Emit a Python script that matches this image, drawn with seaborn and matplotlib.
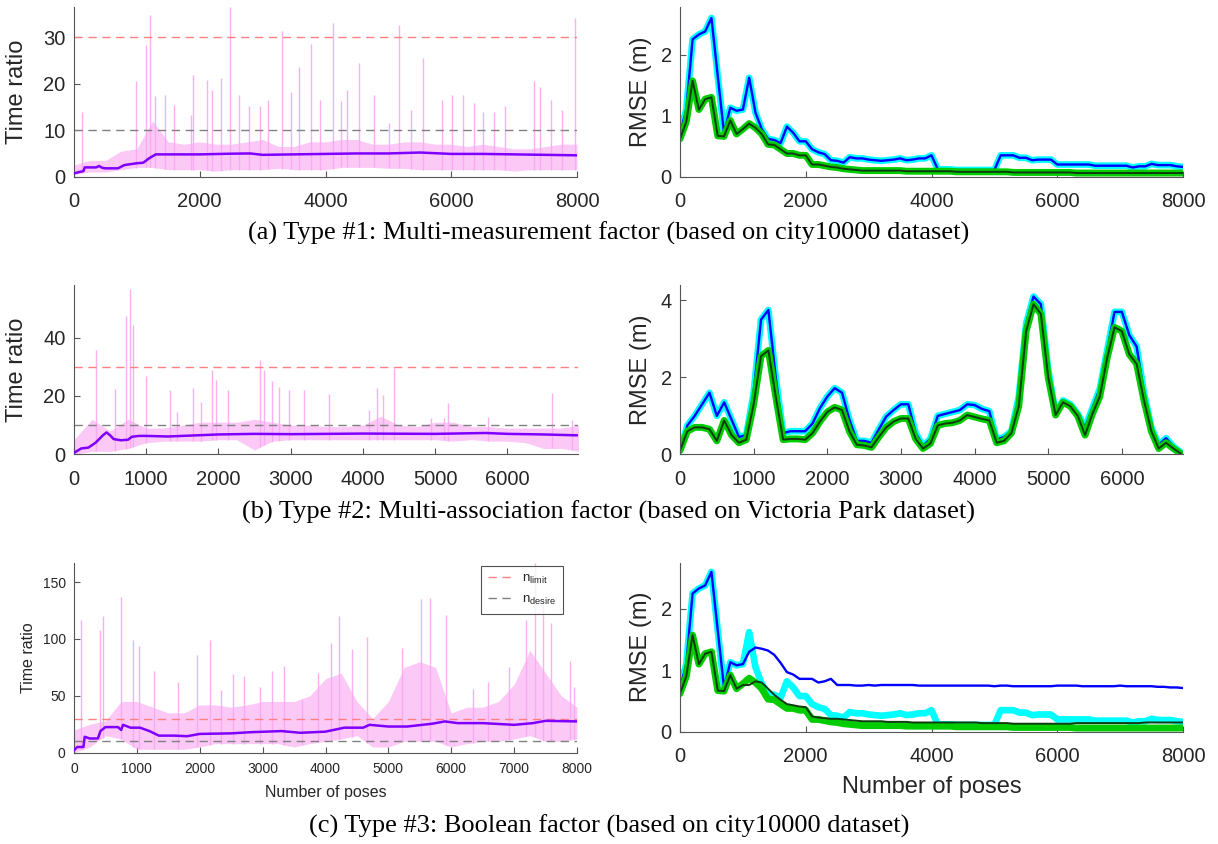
import matplotlib
matplotlib.use('Agg')
import matplotlib.pyplot as plt
import numpy as np
import seaborn as sns

# ---------------- data ----------------
# time ratio, city10000 (row a): running mean (purple)
mean_a_x = [0, 80, 150, 170, 350, 400, 450, 500, 700, 800, 1000, 1100, 1200, 1300, 1400,
            2000, 2500, 2800, 3000, 3500, 4000, 4500, 5000, 5500, 6000, 6500, 7000, 7500, 8000]
mean_a_y = [0.7, 1.0, 1.2, 2.0, 2.0, 2.3, 1.9, 1.8, 1.8, 2.5, 2.9, 3.0, 4.0, 4.8, 4.8,
            4.8, 4.95, 5.0, 4.7, 4.8, 4.9, 5.0, 5.0, 5.2, 4.9, 4.9, 4.8, 4.7, 4.6]
# raw per-pose ratio (pink): dense band every 250 poses + single spikes
band_a_x = list(range(0, 8001, 250))
band_a_lo = [0.5, 1.0, 1.0, 1.5, 2.0, 2.0, 1.5, 1.5, 1.5, 1.2, 1.5, 1.5, 1.5, 1.8, 1.5, 1.5, 1.5,
             2.0, 2.0, 2.0, 1.8, 1.8, 1.5, 1.5, 1.5, 1.5, 1.5, 1.5, 1.2, 1.5, 1.5, 1.5, 1.5]
band_a_hi = [2.5, 3.5, 3.5, 5.5, 6.0, 12.0, 7.5, 7.0, 7.5, 7.0, 7.0, 7.5, 8.0, 6.5, 6.5, 7.5, 7.5,
             8.0, 8.0, 7.0, 7.0, 7.5, 7.5, 7.0, 7.0, 6.5, 7.0, 6.5, 6.0, 6.0, 6.5, 7.0, 7.0]
spike_a_x = [134, 985, 1138, 1211, 1290, 1454, 1594, 1868, 1886, 2111, 2202, 2342, 2476, 2628,
             2780, 2962, 3084, 3309, 3449, 3583, 3766, 3905, 4118, 4240, 4349, 4526, 4775, 5006,
             5171, 5365, 5547, 5852, 6016, 6187, 6357, 6503, 6674, 6856, 7324, 7416, 7586, 7768, 7970]
spike_a_y = [14, 20.5, 28.4, 34.7, 17.3, 17.6, 15.5, 13.3, 21.9, 20.9, 18.7, 21.2, 36.5, 17.6,
             15.1, 15.3, 16.5, 31.3, 18.3, 23.7, 28.6, 16.5, 33, 16.2, 18.7, 24.5, 17.6, 11.5,
             32.7, 14.4, 25.5, 16.5, 17.6, 17.6, 15.8, 14, 14, 15.1, 20.5, 19.4, 16.5, 14.4, 34.2]

# time ratio, Victoria Park (row b)
mean_b_x = [0, 100, 200, 300, 400, 450, 500, 550, 650, 750, 800, 900, 1000, 1300, 2000,
            2500, 3000, 4000, 5000, 5700, 6000, 6500, 6970]
mean_b_y = [0.5, 2.0, 2.3, 4.0, 6.5, 7.5, 6.5, 5.2, 4.8, 5.0, 6.0, 6.3, 6.3, 6.1, 6.8,
            7.0, 6.9, 7.1, 7.0, 7.3, 7.0, 6.8, 6.5]
band_b_x = list(range(0, 7001, 250))
band_b_lo = [0.0, 1.0, 1.0, 2.0, 4.0, 4.5, 4.5, 4.5, 5.0, 5.0, 1.5, 4.5, 5.0, 5.0, 5.0,
             5.0, 5.0, 5.0, 5.0, 5.0, 5.0, 4.5, 5.0, 4.5, 4.5, 4.0, 2.0, 2.0, 1.0]
band_b_hi = [5.0, 12.0, 8.0, 12.0, 9.0, 9.0, 10.0, 11.0, 11.0, 11.0, 12.0, 11.0, 10.0, 10.0, 9.5,
             9.5, 10.0, 13.0, 10.0, 9.5, 11.0, 11.0, 9.5, 9.5, 9.0, 9.0, 9.0, 9.0, 10.0]
spike_b_x = [302, 567, 715, 779, 821, 991, 1330, 1426, 1654, 1760, 1908, 1972, 2131, 2581, 2634,
             2740, 2846, 2979, 3191, 3535, 4092, 4198, 4277, 4436, 4940, 5125, 5178, 5735, 6620, 6901]
spike_b_y = [35.9, 22.3, 47.3, 56.8, 44.2, 26.8, 22, 14.6, 22.8, 18, 28.8, 25.4, 22, 32.3, 28.8,
             25, 23, 22, 22, 20.6, 15.2, 22.8, 20.3, 29.4, 12.3, 12.3, 17.7, 12.9, 20.9, 11.7]

# time ratio, Boolean factor on city10000 (row c)
mean_c_x = [0, 50, 150, 170, 250, 380, 420, 500, 700, 750, 780, 900, 1050, 1200, 1350, 1600,
            1800, 2000, 2500, 2800, 3300, 3600, 4000, 4300, 4600, 4700, 5000, 5300, 5700, 5900,
            6100, 6500, 7000, 7300, 7500, 8000]
mean_c_y = [2, 5, 5, 14, 12.5, 12.5, 19, 22.5, 22.5, 20, 24.5, 22, 22, 19, 15, 15,
            14.5, 16.5, 17, 18, 19, 17.5, 18.5, 22, 22, 24.5, 23, 23, 25.5, 27.5,
            26, 26, 24.5, 26, 28, 27.5]
band_c_x = list(range(0, 8001, 250))
band_c_lo = [0, 5, 15, 12, 3, 3, 3, 3, 5, 8, 8, 8, 8, 8, 5, 8, 10,
             12, 15, 5, 5, 10, 10, 10, 5, 8, 10, 10, 12, 15, 10, 10, 12]
band_c_hi = [20, 25, 28, 45, 45, 40, 35, 35, 42, 42, 40, 42, 45, 45, 45, 50, 65,
             70, 45, 30, 45, 75, 80, 75, 35, 40, 40, 45, 60, 90, 70, 50, 40]
spike_c_x = [116, 420, 456, 742, 943, 1028, 1277, 1655, 1958, 2159, 2342, 2536, 2700, 2962, 3145,
             3339, 3631, 3875, 4088, 4210, 4422, 4666, 5213, 5517, 5669, 5912, 6339, 6582, 6917,
             7191, 7331, 7465, 7586, 7890, 7951]
spike_c_y = [117, 108, 120, 137, 99, 94, 72, 62, 86, 99, 55, 69, 67, 58, 72,
             76, 47, 70, 96, 120, 91, 102, 92, 135, 136, 121, 56, 62, 75,
             117, 167, 135, 114, 81, 58]

n_limit = 30
n_desire = 10

# RMSE, sampled every 100 poses
poses_city = list(range(0, 8001, 100))
rmse_a_blue = [0.70, 1.10, 2.25, 2.33, 2.38, 2.60, 1.65, 0.72, 1.13, 1.08,
               1.10, 1.62, 1.05, 0.78, 0.62, 0.60, 0.55, 0.82, 0.72, 0.58,
               0.58, 0.45, 0.40, 0.37, 0.27, 0.26, 0.23, 0.32, 0.30, 0.30,
               0.28, 0.27, 0.26, 0.27, 0.28, 0.30, 0.27, 0.28, 0.30, 0.30,
               0.35, 0.12, 0.12, 0.12, 0.11, 0.11, 0.11, 0.11, 0.11, 0.11,
               0.11, 0.35, 0.35, 0.35, 0.31, 0.31, 0.27, 0.28, 0.28, 0.28,
               0.20, 0.20, 0.20, 0.20, 0.20, 0.20, 0.18, 0.18, 0.18, 0.18,
               0.18, 0.18, 0.15, 0.17, 0.17, 0.21, 0.19, 0.19, 0.19, 0.17,
               0.16]
rmse_a_green = [0.62, 0.90, 1.57, 1.10, 1.27, 1.30, 0.67, 0.66, 0.92, 0.70,
                0.78, 0.87, 0.80, 0.70, 0.53, 0.52, 0.45, 0.38, 0.38, 0.35,
                0.35, 0.20, 0.20, 0.18, 0.16, 0.15, 0.13, 0.12, 0.11, 0.10,
                0.10, 0.10, 0.10, 0.10, 0.10, 0.10, 0.09, 0.09, 0.09, 0.09,
                0.09, 0.09, 0.09, 0.09, 0.08, 0.08, 0.08, 0.08, 0.08, 0.08,
                0.08, 0.08, 0.08, 0.07, 0.07, 0.07, 0.07, 0.07, 0.07, 0.07,
                0.07, 0.07, 0.07, 0.06, 0.06, 0.06, 0.06, 0.06, 0.06, 0.06,
                0.06, 0.06, 0.06, 0.06, 0.06, 0.06, 0.06, 0.06, 0.06, 0.06,
                0.06]

poses_vp = list(range(0, 6801, 100))
rmse_b_blue = [0.10, 0.75, 1.00, 1.30, 1.60, 1.00, 1.35, 0.90, 0.45, 0.50,
               1.60, 3.50, 3.75, 2.00, 0.55, 0.60, 0.60, 0.60, 0.80, 1.20,
               1.50, 1.72, 1.60, 0.90, 0.35, 0.35, 0.30, 0.65, 0.98, 1.15,
               1.30, 1.30, 0.55, 0.22, 0.40, 1.00, 1.05, 1.10, 1.15, 1.30,
               1.28, 1.18, 1.12, 0.38, 0.45, 0.60, 1.50, 3.40, 4.10, 3.90,
               2.20, 1.05, 1.40, 1.30, 1.05, 0.70, 1.20, 1.70, 2.70, 3.70,
               3.70, 3.10, 2.80, 1.60, 0.70, 0.25, 0.42, 0.20, 0.05]
rmse_b_green = [0.10, 0.60, 0.70, 0.70, 0.65, 0.35, 0.88, 0.50, 0.30, 0.38,
                1.30, 2.55, 2.70, 1.50, 0.38, 0.40, 0.40, 0.38, 0.55, 0.85,
                1.10, 1.22, 1.15, 0.60, 0.25, 0.23, 0.18, 0.45, 0.70, 0.85,
                0.93, 0.93, 0.40, 0.15, 0.28, 0.75, 0.80, 0.82, 0.88, 1.02,
                0.97, 0.92, 0.88, 0.30, 0.35, 0.55, 1.25, 3.20, 3.90, 3.65,
                2.00, 1.02, 1.35, 1.25, 1.00, 0.50, 1.05, 1.50, 2.50, 3.30,
                3.20, 2.60, 2.35, 1.40, 0.60, 0.15, 0.30, 0.15, 0.02]

rmse_c_blue = [0.70, 1.10, 2.25, 2.33, 2.38, 2.60, 1.65, 0.72, 1.13, 1.08,
               1.10, 1.30, 1.37, 1.35, 1.32, 1.25, 1.12, 0.97, 0.93, 0.86,
               0.86, 0.86, 0.80, 0.82, 0.86, 0.76, 0.76, 0.76, 0.75, 0.75,
               0.76, 0.75, 0.76, 0.76, 0.76, 0.76, 0.76, 0.76, 0.75, 0.75,
               0.75, 0.75, 0.75, 0.75, 0.75, 0.75, 0.75, 0.75, 0.75, 0.75,
               0.74, 0.75, 0.75, 0.74, 0.74, 0.74, 0.74, 0.74, 0.74, 0.74,
               0.75, 0.75, 0.75, 0.75, 0.74, 0.74, 0.74, 0.74, 0.74, 0.74,
               0.75, 0.74, 0.74, 0.74, 0.74, 0.74, 0.73, 0.73, 0.72, 0.72,
               0.71]
rmse_c_dark = [0.62, 0.90, 1.57, 1.10, 1.27, 1.30, 0.67, 0.66, 0.92, 0.70,
               0.76, 0.76, 0.82, 0.80, 0.70, 0.60, 0.52, 0.45, 0.43, 0.41,
               0.40, 0.25, 0.23, 0.22, 0.21, 0.21, 0.20, 0.19, 0.18, 0.17,
               0.17, 0.17, 0.17, 0.16, 0.16, 0.16, 0.16, 0.15, 0.15, 0.15,
               0.15, 0.15, 0.15, 0.15, 0.15, 0.15, 0.15, 0.15, 0.14, 0.14,
               0.14, 0.14, 0.14, 0.13, 0.13, 0.13, 0.13, 0.13, 0.13, 0.13,
               0.13, 0.13, 0.13, 0.14, 0.14, 0.14, 0.14, 0.14, 0.14, 0.14,
               0.14, 0.14, 0.14, 0.14, 0.15, 0.15, 0.15, 0.15, 0.15, 0.15,
               0.15]

captions = ['(a) Type #1: Multi-measurement factor (based on city10000 dataset)',
            '(b) Type #2: Multi-association factor (based on Victoria Park dataset)',
            '(c) Type #3: Boolean factor (based on city10000 dataset)']

# ---------------- style ----------------
sns.set_style('ticks')
plt.rcParams['font.family'] = ['Liberation Sans', 'DejaVu Sans']
plt.rcParams['mathtext.fontset'] = 'custom'
plt.rcParams['mathtext.rm'] = 'Liberation Sans'

PINK = '#fba6f2'
PURPLE = '#7f00ff'
AXC = '#555555'
TXT = '#262626'

W, H = 1218, 844
fig = plt.figure(figsize=(W / 100, H / 100), dpi=100)


def add_ax(x0, y0, x1, y1):
    # pixel box -> figure fraction
    return fig.add_axes([x0 / W, 1 - y1 / H, (x1 - x0) / W, (y1 - y0) / H])


def style(ax, fs, lab_fs, ylabel, label_x, pad, xlabel=None, xlabelpad=4):
    sns.despine(ax=ax)
    for s in ['left', 'bottom']:
        ax.spines[s].set_color(AXC)
        ax.spines[s].set_linewidth(0.8)
    ax.tick_params(direction='in', length=4, width=0.8, color=AXC,
                   labelcolor=TXT, labelsize=fs)
    ax.tick_params(axis='x', pad=pad)
    ax.tick_params(axis='y', pad=6)
    ax.set_ylabel(ylabel, fontsize=lab_fs, color=TXT)
    ax.yaxis.set_label_coords(label_x, 0.5)
    if xlabel:
        ax.set_xlabel(xlabel, fontsize=lab_fs, color=TXT, labelpad=xlabelpad)


def ratio_panel(ax, bx, lo, hi, sx, sy, mx, my):
    ax.fill_between(bx, lo, hi, color=PINK, alpha=0.6, lw=0, zorder=1)
    base = np.interp(sx, bx, lo)
    ax.vlines(sx, base, sy, color=PINK, lw=1.0, alpha=0.9, zorder=1)
    ax.axhline(n_limit, color='#ff8080', lw=1.0, dashes=(6, 4), zorder=2,
               label=r'$\mathregular{n_{limit}}$')
    ax.axhline(n_desire, color='#808080', lw=1.0, dashes=(6, 4), zorder=2,
               label=r'$\mathregular{n_{desire}}$')
    sns.lineplot(x=mx, y=my, ax=ax, color=PURPLE, lw=1.8, zorder=3,
                 estimator=None, sort=False, legend=False)


def rmse_panel(ax, x, cyan, blue, green, dark):
    sns.lineplot(x=x, y=cyan, ax=ax, color='#00ffff', lw=4.8, estimator=None, legend=False)
    sns.lineplot(x=x, y=blue, ax=ax, color='#0000ff', lw=1.7, estimator=None, legend=False)
    sns.lineplot(x=x, y=green, ax=ax, color='#00cc00', lw=5.0, estimator=None, legend=False)
    sns.lineplot(x=x, y=dark, ax=ax, color='#0f3a0f', lw=1.4, estimator=None, legend=False)


# ---- row (a)
ax = add_ax(74, 7, 577, 176.7)
ratio_panel(ax, band_a_x, band_a_lo, band_a_hi, spike_a_x, spike_a_y, mean_a_x, mean_a_y)
ax.set_xlim(0, 8000)
ax.set_ylim(0, 36.5)
ax.set_xticks(range(0, 8001, 2000))
ax.set_yticks([0, 10, 20, 30])
style(ax, 14.5, 17, 'Time ratio', -0.092, 11)

ax = add_ax(680, 7, 1183, 176.7)
rmse_panel(ax, poses_city, rmse_a_blue, rmse_a_blue, rmse_a_green, rmse_a_green)
ax.set_xlim(0, 8000)
ax.set_ylim(0, 2.78)
ax.set_xticks(range(0, 8001, 2000))
ax.set_yticks([0, 1, 2])
style(ax, 14.5, 17, 'RMSE (m)', -0.056, 11)

# ---- row (b)
ax = add_ax(74, 285, 578, 454.3)
ratio_panel(ax, band_b_x, band_b_lo, band_b_hi, spike_b_x, spike_b_y, mean_b_x, mean_b_y)
ax.set_xlim(0, 6980)
ax.set_ylim(0, 58)
ax.set_xticks(range(0, 6001, 1000))
ax.set_yticks([0, 20, 40])
style(ax, 14.5, 17, 'Time ratio', -0.092, 11)

ax = add_ax(680, 285, 1183, 454.3)
rmse_panel(ax, poses_vp, rmse_b_blue, rmse_b_blue, rmse_b_green, rmse_b_green)
ax.set_xlim(0, 6830)
ax.set_ylim(0, 4.4)
ax.set_xticks(range(0, 6001, 1000))
ax.set_yticks([0, 2, 4])
style(ax, 14.5, 17, 'RMSE (m)', -0.056, 11)

# ---- row (c)
ax = add_ax(74, 562.7, 577, 752.7)
ratio_panel(ax, band_c_x, band_c_lo, band_c_hi, spike_c_x, spike_c_y, mean_c_x, mean_c_y)
ax.set_xlim(0, 8000)
ax.set_ylim(0, 167)
ax.set_xticks(range(0, 8001, 1000))
ax.set_yticks([0, 50, 100, 150])
style(ax, 10, 11.5, 'Time ratio', -0.076, 7, 'Number of poses', 6)
h, l = ax.get_legend_handles_labels()
leg = ax.legend(h[:2], l[:2], loc='upper right', bbox_to_anchor=(0.972, 0.983),
                borderaxespad=0, fontsize=9.5, frameon=True, fancybox=False,
                edgecolor='#262626', handlelength=2.0, handletextpad=0.6,
                borderpad=0.5, labelspacing=0.6)
leg.get_frame().set_linewidth(0.8)

ax = add_ax(680, 562.7, 1183, 731.7)
rmse_panel(ax, poses_city, rmse_a_blue, rmse_c_blue, rmse_a_green, rmse_c_dark)
ax.set_xlim(0, 8000)
ax.set_ylim(0, 2.75)
ax.set_xticks(range(0, 8001, 2000))
ax.set_yticks([0, 1, 2])
style(ax, 14.5, 17, 'RMSE (m)', -0.056, 11, 'Number of poses', 7)

# ---- captions
for cap, yp in zip(captions, [233, 512, 826]):
    fig.text(0.5, 1 - yp / H, cap, ha='center', va='center', fontsize=19,
             family=['Liberation Serif', 'DejaVu Serif'], color='black')

fig.savefig('out.png', dpi=100)
